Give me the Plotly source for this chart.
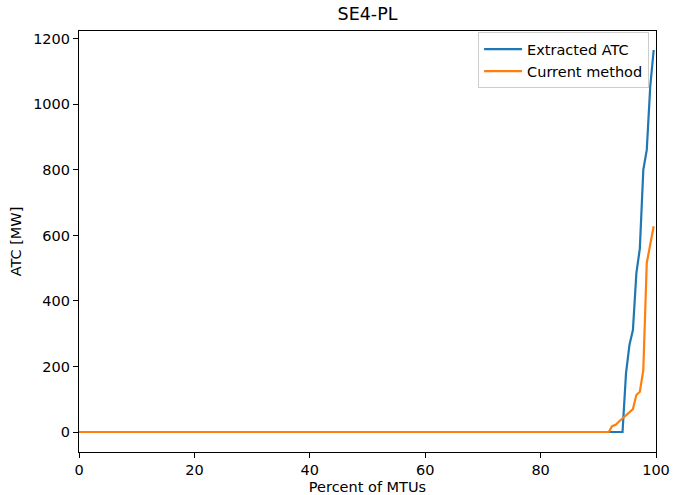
import plotly.graph_objects as go

# Percent of MTUs (0 .. 99.6 in 0.6 steps)
n_points = 167
percent = [i * 0.6 for i in range(n_points)]

# Extracted ATC [MW], sorted duration curve (tail from 94.8 %)
extracted_tail = [179, 266, 311, 485, 560, 800, 861, 1054, 1166]
extracted_atc = [0] * (n_points - len(extracted_tail)) + extracted_tail

# Current method [MW] (tail from 92.4 %)
current_tail = [18, 22, 32, 42, 51, 60, 70, 113, 123, 189, 516, 572, 628]
current_method = [0] * (n_points - len(current_tail)) + current_tail

font_family = "DejaVu Sans"

fig = go.Figure()
fig.add_trace(go.Scatter(x=percent, y=extracted_atc, mode="lines", name="Extracted ATC",
                         line=dict(color="#1f77b4", width=2.2)))
fig.add_trace(go.Scatter(x=percent, y=current_method, mode="lines", name="Current method",
                         line=dict(color="#ff7f0e", width=2.2)))

axis_common = dict(
    showline=True, linecolor="black", linewidth=1.1, mirror=True,
    ticks="outside", ticklen=5, tickwidth=1.1, tickcolor="black",
    showgrid=False, zeroline=False, automargin=False,
    tickfont=dict(family=font_family, size=14.5, color="black"),
)

fig.update_layout(
    width=673, height=495,
    margin=dict(l=79, r=17, t=31, b=43, autoexpand=False),
    paper_bgcolor="white", plot_bgcolor="white",
    font=dict(family=font_family, size=14.5, color="black"),
    title=dict(text="SE4-PL", x=0.5, xref="paper", xanchor="center",
               y=1 - 14 / 495, yref="container", yanchor="middle",
               font=dict(family=font_family, size=17.5, color="black")),
    xaxis=dict(range=[0, 100], tickvals=[0, 20, 40, 60, 80, 100],
               title=dict(text="Percent of MTUs", standoff=6,
                          font=dict(family=font_family, size=14.5)),
               **axis_common),
    yaxis=dict(range=[-61, 1224], tickvals=[0, 200, 400, 600, 800, 1000, 1200],
               title=dict(text="ATC [MW]", standoff=8,
                          font=dict(family=font_family, size=14.5)),
               **axis_common),
    legend=dict(x=0.988, y=0.997, xanchor="right", yanchor="top",
                itemwidth=38,
                bgcolor="rgba(255,255,255,0.8)", bordercolor="#cccccc", borderwidth=1,
                font=dict(family=font_family, size=14.5, color="black")),
    showlegend=True,
)

fig.write_html("out.html", config={"displayModeBar": False},
               post_script="document.body.style.margin='0';")
